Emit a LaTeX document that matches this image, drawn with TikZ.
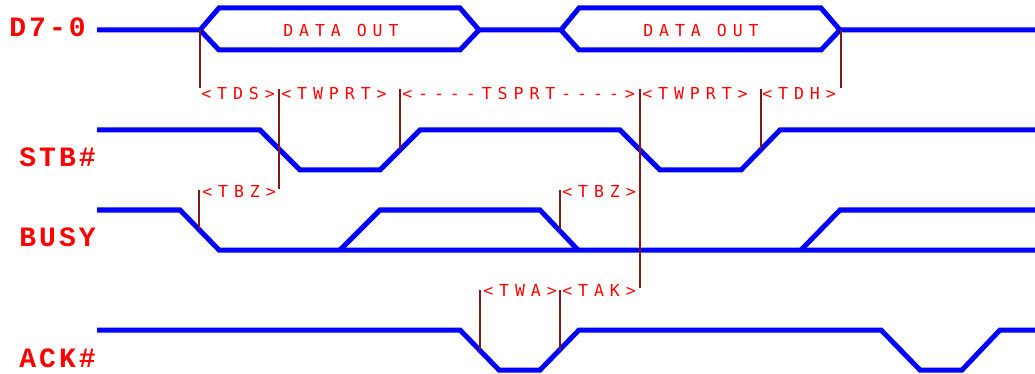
\documentclass[tikz,border=0pt]{standalone}
\usepackage{fontspec}
\newfontfamily\sigfont[LetterSpace=11]{Liberation Mono}
\newfontfamily\tmfont[LetterSpace=36]{DejaVu Sans Mono}
\definecolor{sigblue}{RGB}{0,0,255}
\definecolor{tickred}{RGB}{128,24,24}
\definecolor{txtred}{RGB}{255,0,0}

\begin{document}
\begin{tikzpicture}[x=0.75pt,y=-0.75pt]
                \tikzstyle{sig}=[draw=sigblue, line width=3.75pt]
                \tikzstyle{tickline}=[draw=tickred, line width=1.5pt]
                \tikzstyle{signame}=[anchor=west, inner sep=0pt, text=txtred, font=\sigfont\bfseries\fontsize{21}{21}\selectfont]
                \tikzstyle{tm}=[anchor=west, inner sep=0pt, text=txtred, font=\tmfont\fontsize{12.4}{13}\selectfont]
                \useasboundingbox (0,0) rectangle (1035,374);

                \node[signame] (d) at (9,27) {D7-0};
                \node[signame] (s) at (19,157) {STB\#};
                \node[signame] (b) at (19,237) {BUSY};
                \node[signame] (k) at (19,358) {ACK\#};

                \draw[sig] (97,30) -- (200,30) -- (219,8) -- (460,8) -- (479,30) -- (561,30) -- (579,8) -- (821,8) -- (840,30) -- (1035,30);
                \draw[sig] (200,30) -- (219,50) -- (460,50) -- (479,30);
                \draw[sig] (561,30) -- (579,50) -- (821,50) -- (840,30);
                \node[tm] (o1) at (283,30) {DATA OUT};
                \node[tm] (o2) at (643,30) {DATA OUT};

                \draw[sig] (97,130) -- (260,130) -- (300,170) -- (380,170) -- (420,130) -- (620,130) -- (660,170) -- (741,170) -- (780,130) -- (1035,130);

                \draw[sig] (97,210) -- (180,210) -- (219,250) -- (1035,250);
                \draw[sig] (340,250) -- (380,210) -- (540,210) -- (578,250);
                \draw[sig] (801,250) -- (840,210) -- (1035,210);

                \draw[sig] (97,330) -- (460,330) -- (499,370) -- (540,370) -- (579,330) -- (881,330) -- (920,370) -- (962,370) -- (1000,330) -- (1035,330);

                \draw[tickline] (200,30) -- (200,88);
                \draw[tickline] (279,89) -- (279,189);
                \draw[tickline] (400,89) -- (400,149);
                \draw[tickline] (640,89) -- (640,288);
                \draw[tickline] (761,89) -- (761,149);
                \draw[tickline] (841,30) -- (841,88);
                \draw[tickline] (199,190) -- (199,229);
                \draw[tickline] (560,190) -- (560,229);
                \draw[tickline] (480,290) -- (480,350);
                \draw[tickline] (560,290) -- (560,350);

                \node[tm] (t1) at (201,93) {<TDS>};
                \node[tm] (t2) at (281,93) {<TWPRT>};
                \node[tm] (t3) at (402,93) {<----TSPRT---->};
                \node[tm] (t4) at (642,93) {<TWPRT>};
                \node[tm] (t5) at (762,93) {<TDH>};
                \node[tm] (t6) at (202,191) {<TBZ>};
                \node[tm] (t7) at (562,191) {<TBZ>};
                \node[tm] (t8) at (483,290) {<TWA>};
                \node[tm] (t9) at (562,290) {<TAK>};
            \end{tikzpicture}
\end{document}
